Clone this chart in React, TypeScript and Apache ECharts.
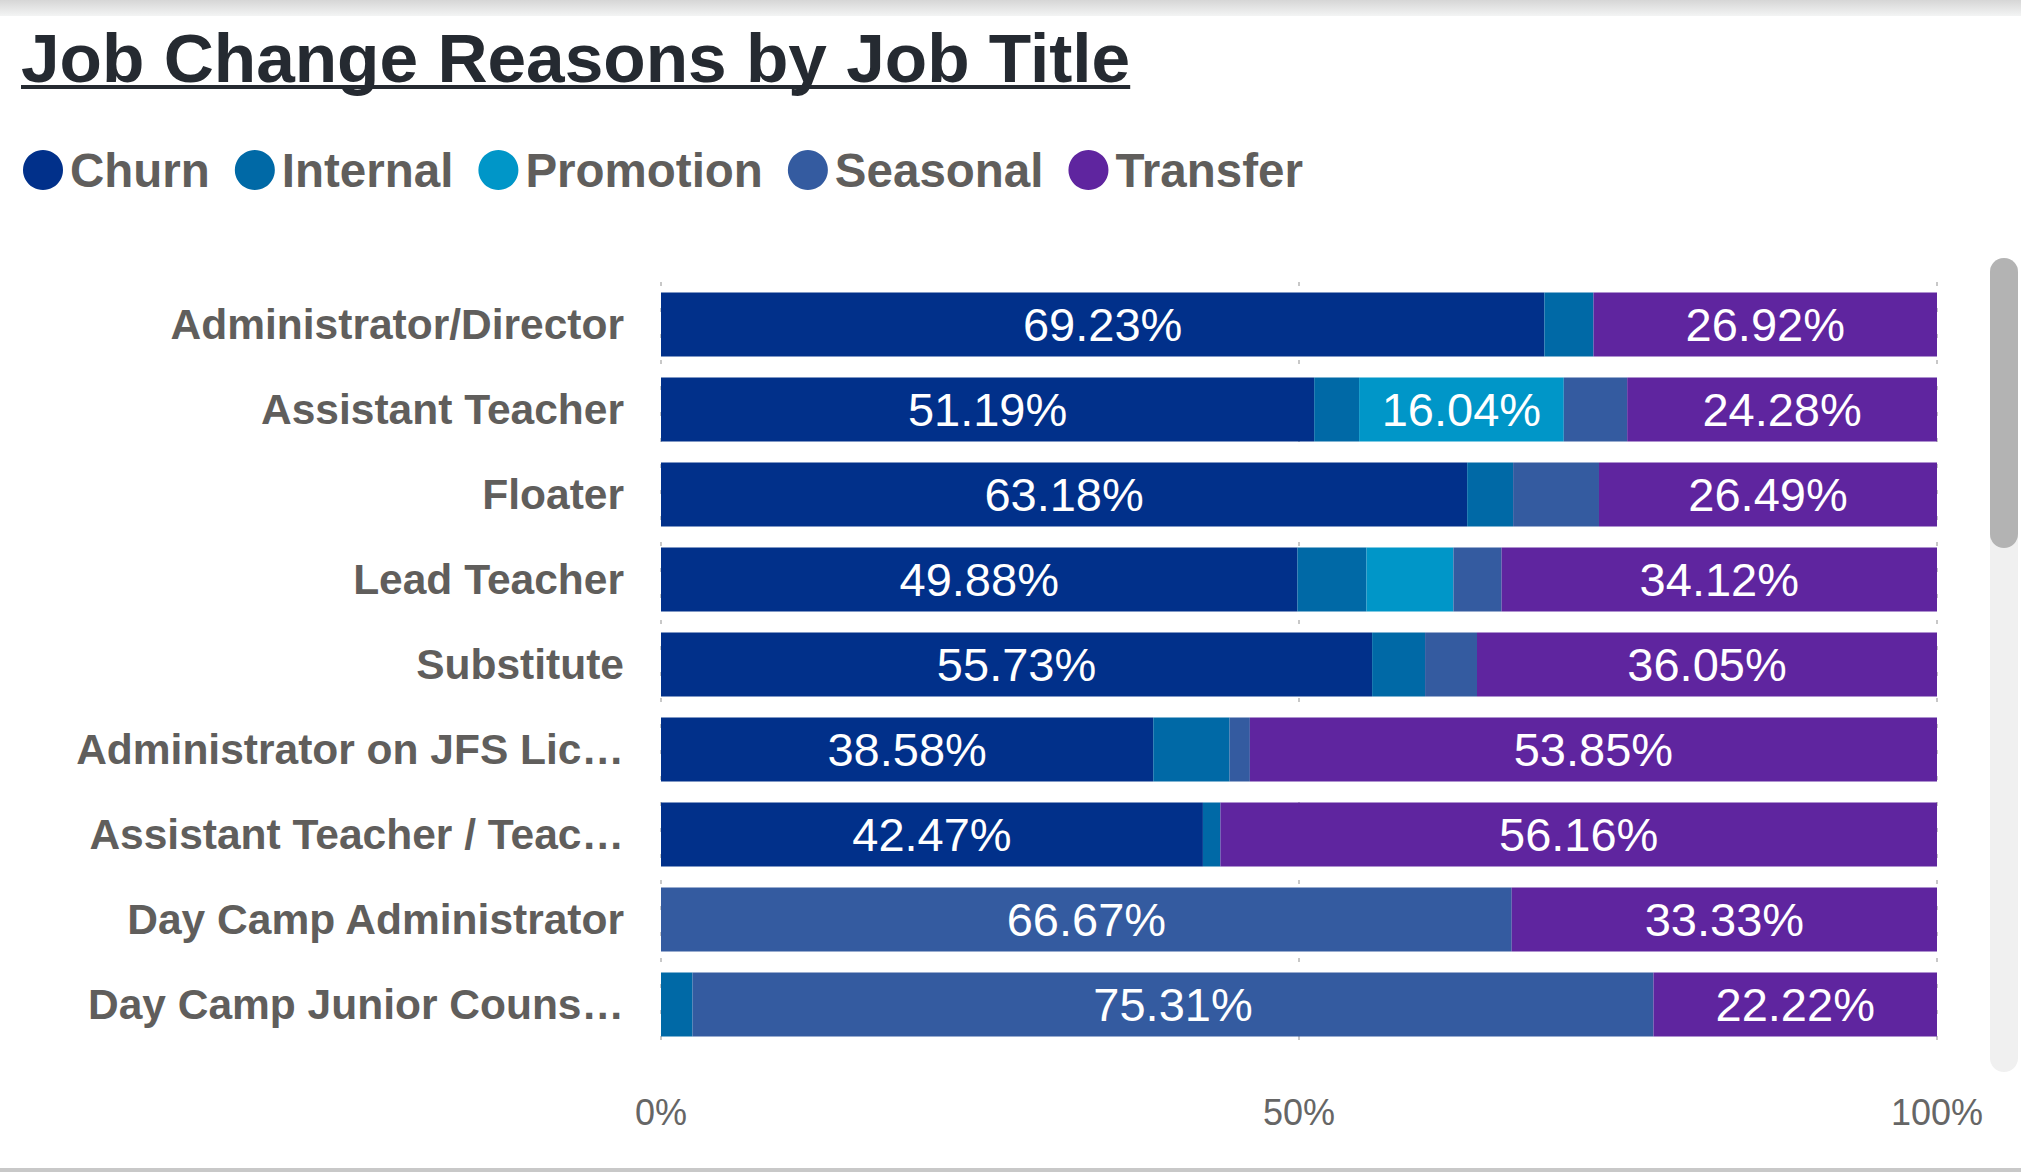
import React, { useEffect, useRef } from "react";
import * as echarts from "echarts";

const categories = [
  "Administrator/Director",
  "Assistant Teacher",
  "Floater",
  "Lead Teacher",
  "Substitute",
  "Administrator on JFS Lic…",
  "Assistant Teacher / Teac…",
  "Day Camp Administrator",
  "Day Camp Junior Couns…",
];

const seriesNames = ["Churn", "Internal", "Promotion", "Seasonal", "Transfer"];
const seriesColors = ["#01308a", "#0069a6", "#0096c8", "#345ba0", "#5f259f"];

const churn = [69.23, 51.19, 63.18, 49.88, 55.73, 38.58, 42.47, 0, 0];
const internal = [3.85, 3.52, 3.6, 5.41, 4.15, 5.98, 1.37, 0, 2.47];
const promotion = [0, 16.04, 0, 6.81, 0, 0, 0, 0, 0];
const seasonal = [0, 4.97, 6.73, 3.78, 4.07, 1.59, 0, 66.67, 75.31];
const transfer = [26.92, 24.28, 26.49, 34.12, 36.05, 53.85, 56.16, 33.33, 22.22];

const xTicks = [0, 50, 100];

const FONT = "'Liberation Sans', Arial, Helvetica, sans-serif";
const TITLE = "Job Change Reasons by Job Title";

export default function App() {
  const ref = useRef<HTMLDivElement>(null);

  useEffect(() => {
    if (!ref.current) return;
    const chart = echarts.init(ref.current, null, { renderer: "svg" });

    let titleW = 1107;
    try {
      const c = document.createElement("canvas").getContext("2d");
      if (c) {
        c.font = `bold 69.4px ${FONT}`;
        titleW = c.measureText(TITLE).width;
      }
    } catch (e) {}

    const values = [churn, internal, promotion, seasonal, transfer];

    const option: any = {
      animation: false,
      backgroundColor: "#ffffff",
      title: {
        text: TITLE,
        left: 21,
        top: 23,
        padding: 0,
        textStyle: {
          fontFamily: FONT,
          fontSize: 69.4,
          fontWeight: "bold",
          color: "#252a31",
        },
      },
      legend: {
        data: seriesNames,
        left: 23,
        top: 146,
        icon: "circle",
        itemWidth: 40,
        itemHeight: 40,
        itemGap: 25,
        padding: 0,
        textStyle: {
          fontFamily: FONT,
          fontSize: 47.5,
          fontWeight: "bold",
          color: "#605e5c",
          padding: [0, 0, 0, 2],
        },
      },
      grid: {
        left: 661,
        right: 2021 - 1937,
        top: 282,
        height: 765,
        containLabel: false,
      },
      xAxis: {
        type: "value",
        min: 0,
        max: 100,
        interval: 50,
        axisLine: { show: false },
        axisTick: { show: false },
        axisLabel: {
          margin: 47,
          fontFamily: FONT,
          fontSize: 36,
          color: "#666666",
          formatter: (v: number) => (xTicks.includes(v) ? `${v}%` : ""),
        },
        splitLine: {
          show: true,
          lineStyle: { color: "#c8c8c8", width: 2, type: [4, 22] },
        },
      },
      yAxis: {
        type: "category",
        data: categories,
        inverse: true,
        axisLine: { show: false },
        axisTick: { show: false },
        axisLabel: {
          margin: 37,
          fontFamily: FONT,
          fontSize: 42.5,
          fontWeight: "bold",
          color: "#605e5c",
        },
      },
      series: seriesNames.map((name, i) => ({
        name,
        type: "bar",
        stack: "total",
        barWidth: 64,
        itemStyle: { color: seriesColors[i] },
        label: {
          show: true,
          position: "inside",
          fontFamily: FONT,
          fontSize: 47,
          color: "#ffffff",
          formatter: (p: any) => (p.value >= 10 ? `${Number(p.value).toFixed(2)}%` : ""),
        },
        data: values[i],
      })),
      graphic: [
        {
          type: "rect",
          left: 0,
          top: 0,
          shape: { width: 2021, height: 16 },
          style: {
            fill: new echarts.graphic.LinearGradient(0, 0, 0, 1, [
              { offset: 0, color: "#d6d6d6" },
              { offset: 1, color: "#f3f4f4" },
            ]),
          },
          silent: true,
        },
        {
          type: "rect",
          left: 21,
          top: 85,
          shape: { width: titleW, height: 4 },
          style: { fill: "#252a31" },
          silent: true,
        },
        {
          type: "rect",
          left: 1990,
          top: 258,
          shape: { width: 28, height: 814, r: 14 },
          style: { fill: "#f0f0f0" },
          silent: true,
        },
        {
          type: "rect",
          left: 1990,
          top: 258,
          shape: { width: 28, height: 290, r: 14 },
          style: { fill: "#b3b3b3" },
          silent: true,
        },
        {
          type: "rect",
          left: 0,
          top: 1168,
          shape: { width: 2021, height: 4 },
          style: { fill: "#c8c8c8" },
          silent: true,
        },
      ],
    };

    chart.setOption(option);
    return () => chart.dispose();
  }, []);

  return (
    <div
      ref={ref}
      style={{ position: "fixed", left: 0, top: 0, width: 2021, height: 1172 }}
    />
  );
}
